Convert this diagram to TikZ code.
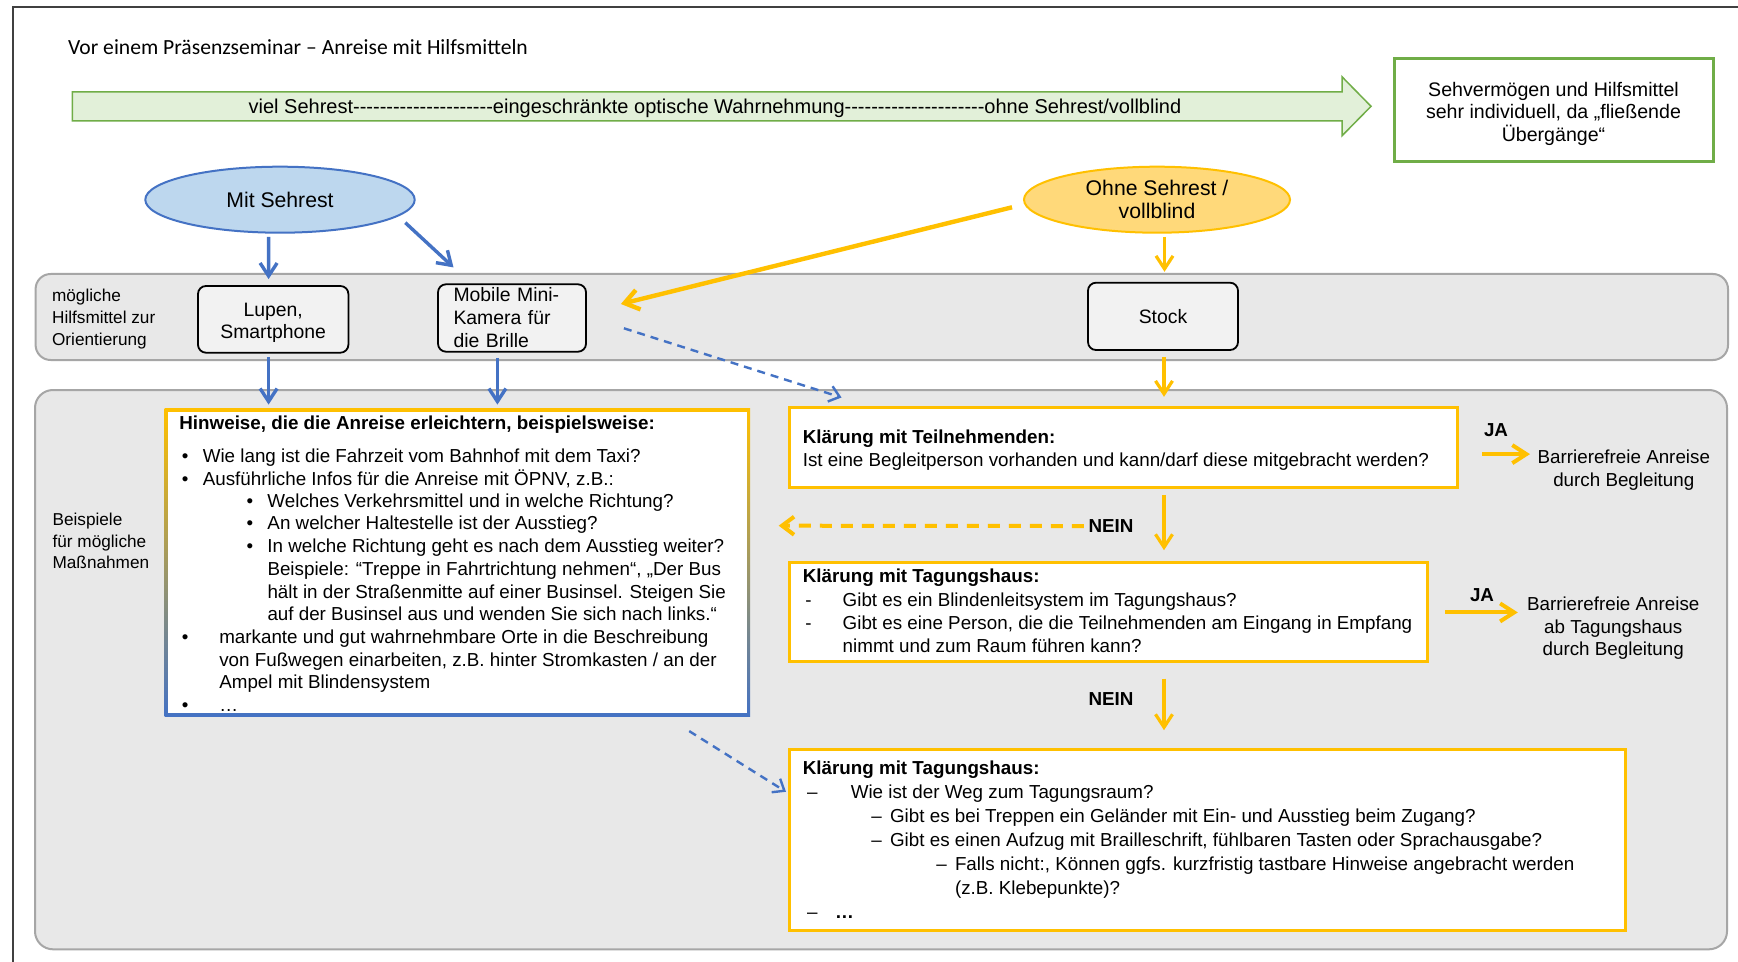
\documentclass[tikz,border=0pt]{standalone}
\usepackage{fontspec}
\setmainfont{Liberation Sans}
\newfontfamily\calibri{Carlito}
\usetikzlibrary{arrows.meta,shapes.geometric,calc}
\definecolor{blueC}{HTML}{4472C4}
\definecolor{lblueC}{HTML}{BDD7EE}
\definecolor{midC}{HTML}{B4C7E7}
\definecolor{yellowC}{HTML}{FFC000}
\definecolor{lyellowC}{HTML}{FFD97A}
\definecolor{greenC}{HTML}{70AD47}
\definecolor{lgreenC}{HTML}{E2F0D9}
\definecolor{bandC}{HTML}{E8E8E8}
\definecolor{bandL}{HTML}{A6A6A6}
\definecolor{toolC}{HTML}{F2F2F2}
\definecolor{frameC}{HTML}{404040}
\newcommand{\fbody}{\fontsize{9.4}{11.35}\selectfont}
\newcommand{\flab}{\fontsize{8.6}{10.85}\selectfont}
\newcommand{\fell}{\fontsize{10.6}{11.7}\selectfont}
\newcommand{\ftool}{\fontsize{9.7}{11.5}\selectfont}
\newcommand{\hy}{\hbox{-}}
\newcommand{\dsh}{\hy\hy\hy\hy\hy\hy\hy}
\newcommand{\bl}[2]{\hspace*{#1}\makebox[#2][l]{•}}
\newcommand{\dl}[2]{\hspace*{#1}\makebox[#2][l]{–}}
\tikzset{
  barrow/.style={draw=blueC, line width=1.7pt, -{Straight Barb[length=6.5pt,width=8.5pt]}},
  yarrow/.style={draw=yellowC, line width=1.6pt, -{Straight Barb[length=6.5pt,width=8.5pt]}},
  ythick/.style={draw=yellowC, line width=2.2pt, -{Straight Barb[length=7pt,width=10pt]}},
  yja/.style={draw=yellowC, line width=2pt, -{Straight Barb[length=7pt,width=9pt]}},
  bdash/.style={draw=blueC, line width=1.2pt, dash pattern=on 4pt off 3pt, -{Straight Barb[length=5pt,width=8pt]}},
  ydash/.style={draw=yellowC, line width=2pt, dash pattern=on 6pt off 4.5pt, -{Straight Barb[length=6pt,width=9pt]}},
  tool/.style={draw=black, fill=toolC, rounded corners=4pt, line width=0.9pt, inner sep=0, font=\ftool},
  ybox/.style={draw=yellowC, fill=white, line width=1.5pt, inner sep=0},
  txt/.style={anchor=base west, inner sep=0, align=left, font=\fbody},
  ctxt/.style={anchor=base, inner sep=0, align=center, font=\fbody},
  lab/.style={anchor=base west, inner sep=0, align=left, font=\flab},
}
\begin{document}
\begin{tikzpicture}[x=0.5pt,y=-0.5pt]
\useasboundingbox (0,0) rectangle (1738,962);
\fill[white] (0,0) rectangle (1738,962);
% frame
\draw[frameC, line width=1pt] (12.6,962) |- (1738,6.7);
% title
\node[anchor=base west, inner sep=0, font={\calibri\fontsize{10.8}{12}\selectfont}] (title) at (67.7,55) {Vor einem Präsenzseminar – Anreise mit Hilfsmitteln};
% green scale arrow
\draw[draw=greenC, fill=lgreenC, line width=0.75pt] (72.3,91.8) -- (1342,91.8) -- (1342,76.8) -- (1371,106.3) -- (1342,135.8) -- (1342,120.8) -- (72.3,120.8) -- cycle;
\node[anchor=base, inner sep=0, font=\fontsize{10}{12}\selectfont] (scale) at (715,114) {viel Sehrest\dsh\dsh\dsh eingeschränkte optische Wahrnehmung\dsh\dsh\dsh ohne Sehrest/vollblind};
\node[draw=greenC, line width=1.5pt, minimum width=159.5pt, minimum height=51.35pt, inner sep=0, align=center, font=\fontsize{9.8}{11.25}\selectfont] (gbox) at (1553.5,110.3) {\rule{0pt}{10.5pt}Sehvermögen und Hilfsmittel\\sehr individuell, da „fließende\\Übergänge“};
% bands
\path[fill=bandC, draw=bandL, line width=1pt, rounded corners=7.5pt] (35.6,274) rectangle (1728,360);
\path[fill=bandC, draw=bandL, line width=1pt, rounded corners=9pt] (35,390) rectangle (1727,949.3);
\node[lab] (lab1) at (51.7,345) {mögliche\\Hilfsmittel zur\\Orientierung};
\node[lab] (lab2) at (52.2,568.7) {Beispiele\\für mögliche\\Maßnahmen};
% ellipses
\node[ellipse, draw=blueC, fill=lblueC, line width=1pt, minimum width=134.7pt, minimum height=33pt, inner sep=0, font=\fell] (mit) at (280,199.7) {Mit Sehrest};
\node[ellipse, draw=yellowC, fill=lyellowC, line width=1pt, minimum width=133pt, minimum height=33pt, inner sep=0, align=center, font=\fell] (ohne) at (1157,199.7) {Ohne Sehrest /\\vollblind};
% tools
\node[tool, minimum width=75.2pt, minimum height=33.35pt, align=center] (lupen) at (273.2,319.35) {\rule{0pt}{9.8pt}Lupen,\\[-0.6pt]Smartphone};
\node[tool, minimum width=74pt, minimum height=33.7pt, text width=58.5pt, align=left] (mobile) at (512,318) {Mobile Mini-\\Kamera für\\die Brille};
\node[tool, minimum width=75pt, minimum height=33.65pt] (stock) at (1163,316.35) {Stock};
% Hinweise box with gradient border
\node[minimum width=292.3pt, minimum height=153.35pt, inner sep=0] (hinw) at (457.3,562.65) {};
\shade[top color=yellowC, middle color=midC, bottom color=blueC] (hinw.north west) rectangle (hinw.south east);
\fill[white] ($(hinw.north west)+(3,3)$) rectangle ($(hinw.south east)+(-3,-3)$);
\node[txt] (hinwtxt) at (179,711.5) {\textbf{Hinweise, die die Anreise erleichtern, beispielsweise:}\\[5.1pt]
\bl{1.25pt}{10.45pt}Wie lang ist die Fahrzeit vom Bahnhof mit dem Taxi?\\
\bl{1.25pt}{10.45pt}Ausführliche Infos für die Anreise mit ÖPNV, z.B.:\\[-0.5pt]
\bl{33.6pt}{10.45pt}Welches Verkehrsmittel und in welche Richtung?\\
\bl{33.6pt}{10.45pt}An welcher Haltestelle ist der Ausstieg?\\
\bl{33.6pt}{10.45pt}In welche Richtung geht es nach dem Ausstieg weiter?\\
\hspace*{44.05pt}Beispiele: “Treppe in Fahrtrichtung nehmen“, „Der Bus\\
\hspace*{44.05pt}hält in der Straßenmitte auf einer Businsel. Steigen Sie\\
\hspace*{44.05pt}auf der Businsel aus und wenden Sie sich nach links.“\\
\bl{1.25pt}{18.7pt}markante und gut wahrnehmbare Orte in die Beschreibung\\
\hspace*{19.95pt}von Fußwegen einarbeiten, z.B. hinter Stromkasten / an der\\
\hspace*{19.95pt}Ampel mit Blindensystem\\
\bl{1.25pt}{18.7pt}…};
% yellow boxes
\node[ybox, minimum width=334pt, minimum height=40.2pt] (teil) at (1123.3,447.5) {};
\node[txt] (teiltxt) at (802.4,466.5) {\textbf{Klärung mit Teilnehmenden:}\\[0.3pt]Ist eine Begleitperson vorhanden und kann/darf diese mitgebracht werden?};
\node[ybox, minimum width=319.05pt, minimum height=49.7pt] (tag1) at (1108.35,612) {};
\node[txt] (tag1txt) at (802.4,652.2) {\textbf{Klärung mit Tagungshaus:}\\[0.6pt]
\hspace*{1.3pt}\makebox[18.65pt][l]{-}Gibt es ein Blindenleitsystem im Tagungshaus?\\
\hspace*{1.3pt}\makebox[18.65pt][l]{-}Gibt es eine Person, die die Teilnehmenden am Eingang in Empfang\\
\hspace*{19.95pt}nimmt und zum Raum führen kann?};
\node[ybox, minimum width=418.2pt, minimum height=90.85pt] (tag2) at (1207.5,839.85) {};
\node[txt, font=\fontsize{9.4}{12}\selectfont] (tag2txt) at (802.4,918.5) {\textbf{Klärung mit Tagungshaus:}\\
\dl{2.2pt}{21.8pt}Wie ist der Weg zum Tagungsraum?\\
\dl{34.3pt}{9.35pt}Gibt es bei Treppen ein Geländer mit Ein- und Ausstieg beim Zugang?\\
\dl{34.3pt}{9.35pt}Gibt es einen Aufzug mit Brailleschrift, fühlbaren Tasten oder Sprachausgabe?\\
\dl{66.75pt}{9.35pt}Falls nicht:, Können ggfs. kurzfristig tastbare Hinweise angebracht werden\\
\hspace*{76.1pt}(z.B. Klebepunkte)?\\
\dl{2.2pt}{14pt}\textbf{…}};
% outcome texts
\node[ctxt] (bar1) at (1623.8,486.5) {Barrierefreie Anreise\\durch Begleitung};
\node[ctxt] (bar2) at (1613.2,655.8) {Barrierefreie Anreise\\ab Tagungshaus\\durch Begleitung};
\node[ctxt, font=\fbody\bfseries] (ja1) at (1496,436.5) {JA};
\node[ctxt, font=\fbody\bfseries] (ja2) at (1482,601.5) {JA};
\node[ctxt, font=\fbody\bfseries] (nein1) at (1111,532.5) {NEIN};
\node[ctxt, font=\fbody\bfseries] (nein2) at (1111,705.5) {NEIN};
\coordinate (neinend) at (778.7,525.7);
% connectors
\draw[barrow] ($(mit.south)+(-11.4,3.3)$) -- ($(lupen.north)+(-4.6,-6)$);
\draw[barrow] ($(mit.center)+(125.3,23)$) -- ($(mobile.north)+(-58.5,-16)$);
\draw[ythick] ($(ohne.west)+(-11,7.6)$) -- ($(mobile.east)+(34,-14)$);
\draw[yarrow] ($(ohne.south)+(7.5,3.3)$) -- ($(stock.north)+(1.5,-10)$);
\draw[bdash] ($(mobile.east)+(37,10.3)$) -- ($(teil.north west)+(53.7,-8.3)$);
\draw[barrow] ($(lupen.south)+(-4.6,3.3)$) -- ($(lupen.south |- hinw.north)+(-4.6,-4.3)$);
\draw[barrow] ($(mobile.south)+(-14.6,5.3)$) -- ($(mobile.south |- hinw.north)+(-14.6,-4.3)$);
\draw[yarrow] ($(stock.south)+(1,6)$) -- ($(stock.south |- teil.north)+(1,-9)$);
\draw[yarrow] ($(teil.south -| stock.south)+(1,5.6)$) -- ($(tag1.north -| stock.south)+(1,-10.6)$);
\draw[yarrow] ($(tag1.south -| stock.south)+(1,15.3)$) -- ($(tag2.north -| stock.south)+(1,-17.3)$);
\draw[ydash] ($(nein1.west)+(-4.3,0)$) -- (neinend);
\draw[bdash] ($(hinw.south east)+(-60.8,14.7)$) -- ($(tag2.north west)+(-1.8,44.3)$);
\draw[yja] ($(ja1.center)+(-14,24)$) -- ($(ja1.center)+(34,24)$);
\draw[yja] ($(ja2.center)+(-37.2,17.3)$) -- ($(ja2.center)+(35.8,17.3)$);
\end{tikzpicture}
\end{document}
